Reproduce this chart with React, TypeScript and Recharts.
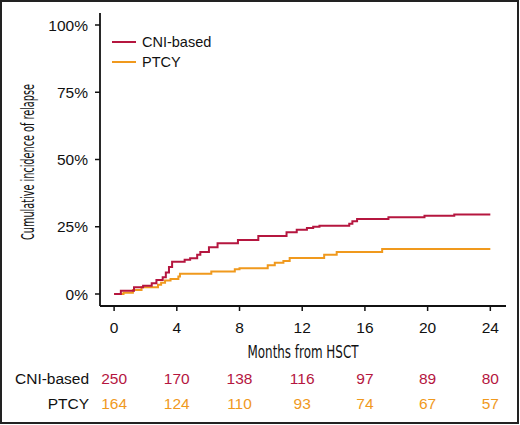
import React from 'react';
import { LineChart, Line, XAxis, YAxis } from 'recharts';

// cumulative incidence (%), step points
const cniMonths = [0, 0.43, 1.27, 1.85, 2.4, 2.7, 3.1, 3.3, 3.5, 3.7, 4.5, 4.85, 5.3, 5.5, 6.05, 6.6, 7.9, 9.2, 11.0, 11.65, 12.3, 12.7, 13.1, 15.0, 15.2, 15.5, 17.5, 19.8, 21.7, 24];
const cniValues = [0, 1.2, 2.5, 3.1, 4.0, 5.2, 6.2, 8.0, 10.0, 12.0, 12.7, 13.3, 14.6, 15.6, 17.4, 18.9, 20.1, 21.6, 23.0, 23.9, 24.5, 25.0, 25.4, 26.1, 27.0, 27.9, 28.5, 29.1, 29.6, 29.6];

const ptcyMonths = [0, 0.6, 1.2, 1.75, 2.8, 3.0, 3.25, 3.6, 4.1, 4.2, 6.2, 7.7, 8.0, 9.8, 10.25, 10.8, 11.2, 13.4, 14.2, 17.1, 24];
const ptcyValues = [0, 0.5, 1.5, 2.5, 3.4, 4.2, 5.0, 5.6, 6.5, 7.5, 8.4, 9.2, 9.6, 10.7, 11.6, 12.3, 13.4, 14.6, 15.6, 16.7, 16.7];

const monthTicks = [0, 4, 8, 12, 16, 20, 24];
const pctTicks = [0, 25, 50, 75, 100];
const cniAtRisk = [250, 170, 138, 116, 97, 89, 80];
const ptcyAtRisk = [164, 124, 110, 93, 74, 67, 57];
const groups = ['CNI-based', 'PTCY'];

const CNI_COLOR = '#b5163f';
const PTCY_COLOR = '#f0991d';
const groupColors = [CNI_COLOR, PTCY_COLOR];
const FONT = '"Liberation Sans", Arial, sans-serif';
const NARROW = '"Liberation Sans Narrow", "DejaVu Sans Condensed", "Liberation Sans", sans-serif';

const cniData = cniMonths.map((m, i) => ({ month: m, value: cniValues[i] }));
const ptcyData = ptcyMonths.map((m, i) => ({ month: m, value: ptcyValues[i] }));

const MonthTick = (props: any) => {
  const { x, payload, index } = props;
  const i = monthTicks.indexOf(payload.value);
  return (
    <g fontFamily={FONT} fontSize={15.5}>
      <text x={x} y={333} textAnchor="middle" fill="#111">{payload.value}</text>
      <text x={x} y={384} textAnchor="middle" fill={CNI_COLOR}>{cniAtRisk[i]}</text>
      <text x={x} y={408.5} textAnchor="middle" fill={PTCY_COLOR}>{ptcyAtRisk[i]}</text>
      {index === 0 && (
        <>
          <text x={x - 25} y={384} textAnchor="end" fill="#111">{groups[0]}</text>
          <text x={x - 25} y={408.5} textAnchor="end" fill="#111">{groups[1]}</text>
        </>
      )}
    </g>
  );
};

export default function App() {
  return (
    <div style={{ position: 'absolute', left: 0, top: 0, width: 520, height: 425, background: '#fff' }}>
      <LineChart width={520} height={425} margin={{ top: 13, right: 14, bottom: 89, left: 60 }}>
        <XAxis
          dataKey="month"
          type="number"
          domain={[-0.9, 25]}
          ticks={monthTicks}
          allowDataOverflow
          height={30}
          axisLine={{ stroke: '#111', strokeWidth: 1.8 }}
          tickLine={{ stroke: '#111', strokeWidth: 1.5 }}
          tickSize={5}
          tick={<MonthTick />}
        />
        <YAxis
          type="number"
          domain={[-4.46, 104.46]}
          ticks={pctTicks}
          allowDataOverflow
          width={40}
          axisLine={{ stroke: '#111', strokeWidth: 1.8 }}
          tickLine={{ stroke: '#111', strokeWidth: 1.5 }}
          tickSize={5}
          tickMargin={7}
          tickFormatter={(v: number) => `${v}%`}
          tick={{ fill: '#111', fontSize: 15.5, fontFamily: FONT }}
        />
        <Line data={ptcyData} dataKey="value" name="PTCY" type="stepAfter" stroke={PTCY_COLOR} strokeWidth={2} dot={false} isAnimationActive={false} />
        <Line data={cniData} dataKey="value" name="CNI-based" type="stepAfter" stroke={CNI_COLOR} strokeWidth={2} dot={false} isAnimationActive={false} />
        <text x={303} y={358} textAnchor="middle" fontFamily={NARROW} fontSize={18} fill="#111" textLength={111} lengthAdjust="spacingAndGlyphs">Months from HSCT</text>
        <text x={34} y={162} transform="rotate(-90 34 162)" textAnchor="middle" fontFamily={NARROW} fontSize={18} fill="#111" textLength={156} lengthAdjust="spacingAndGlyphs">Cumulative incidence of relapse</text>
      </LineChart>
      {/* legend */}
      <div style={{ position: 'absolute', left: 112, top: 32, fontFamily: FONT, fontSize: 14.5, color: '#111', lineHeight: '20px' }}>
        {groups.map((name, i) => (
          <div key={name} style={{ display: 'flex', alignItems: 'center' }}>
            <span style={{ display: 'inline-block', width: 24, height: 2, background: groupColors[i], marginRight: 6 }} />
            {name}
          </div>
        ))}
      </div>
      <div style={{ position: 'absolute', left: 0, top: 0, width: 519, height: 424, border: '2px solid #222', boxSizing: 'border-box', pointerEvents: 'none' }} />
    </div>
  );
}
